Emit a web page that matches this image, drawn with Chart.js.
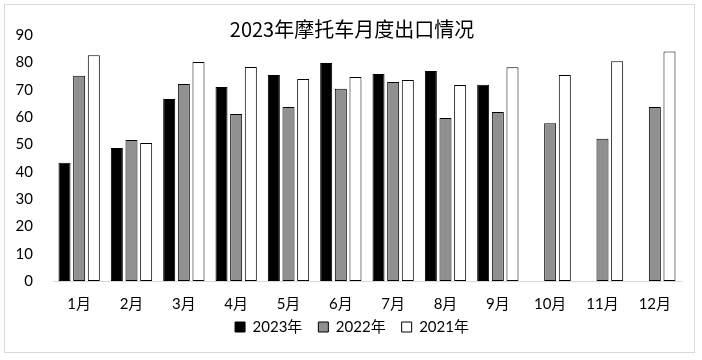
<!DOCTYPE html>
<html>
<head>
<meta charset="utf-8">
<script src="https://cdn.jsdelivr.net/npm/chart.js@4.4.0/dist/chart.umd.min.js"></script>
<style>
html,body{margin:0;padding:0;background:#fff;}
#wrap{width:702px;height:360px;}
</style>
</head>
<body>
<div id="wrap"><canvas id="c" width="702" height="360"></canvas></div>
<script>
const categories = ["1月","2月","3月","4月","5月","6月","7月","8月","9月","10月","11月","12月"];
const seriesNames = ["2023年","2022年","2021年"];
const values2023 = [43.3, 48.7, 66.6, 71.0, 75.4, 79.8, 75.7, 76.8, 71.8, null, null, null];
const values2022 = [75.1, 51.6, 72.1, 61.1, 63.7, 70.3, 72.8, 59.6, 61.8, 57.7, 52.0, 63.7];
const values2021 = [82.6, 50.5, 80.1, 78.3, 73.9, 74.6, 73.5, 71.7, 78.2, 75.4, 80.4, 84.0];
const yTicks = [0,10,20,30,40,50,60,70,80,90];

const latin = "Lato, 'Noto Sans CJK SC', sans-serif";

const framePlugin = {
  id: 'frame',
  beforeDraw(chart) {
    const ctx = chart.ctx;
    ctx.save();
    ctx.fillStyle = '#fff';
    ctx.fillRect(0, 0, chart.width, chart.height);
    ctx.strokeStyle = '#d9d9d9';
    ctx.lineWidth = 1;
    ctx.strokeRect(4.5, 4.5, 690, 348);
    ctx.restore();
  }
};

const noClip = (scale) => { scale._computeLabelArea = () => undefined; };

const ds = (label, data, bg) => ({
  label, data,
  backgroundColor: bg,
  borderColor: '#000',
  borderWidth: 1,
  borderSkipped: false,
  categoryPercentage: 0.84,
  barPercentage: 0.82
});

new Chart(document.getElementById('c'), {
  type: 'bar',
  data: {
    labels: categories,
    datasets: [
      ds(seriesNames[0], values2023, '#000000'),
      ds(seriesNames[1], values2022, '#909090'),
      ds(seriesNames[2], values2021, '#ffffff')
    ]
  },
  options: {
    responsive: false,
    animation: false,
    devicePixelRatio: 1,
    layout: { padding: { left: 23, right: 21, top: 0, bottom: 15.5 } },
    plugins: {
      title: {
        display: true,
        text: '2023年摩托车月度出口情况',
        color: '#000',
        font: { family: "'Noto Sans CJK SC', sans-serif", size: 20, weight: 'normal' },
        padding: { top: 17, bottom: -6 }
      },
      legend: {
        position: 'bottom',
        labels: {
          color: '#000',
          boxWidth: 10,
          boxHeight: 10,
          padding: 16,
          font: { family: latin, size: 15 }
        }
      },
      tooltip: { enabled: false }
    },
    scales: {
      x: {
        afterFit(scale) { scale.height = 22.5; noClip(scale); },
        grid: { display: false, drawTicks: false },
        border: { display: true, color: '#d9d9d9', width: 1 },
        ticks: { color: '#000', font: { family: latin, size: 15 }, padding: 14, maxRotation: 0 }
      },
      y: {
        min: 0, max: 90,
        afterBuildTicks(scale) { scale.ticks = yTicks.map(v => ({ value: v })); },
        afterFit(scale) { scale.width = 30; noClip(scale); },
        grid: { display: false, drawTicks: false },
        border: { display: false },
        ticks: { color: '#000', font: { family: latin, size: 15 }, padding: 20 }
      }
    }
  },
  plugins: [framePlugin]
});
</script>
</body>
</html>
